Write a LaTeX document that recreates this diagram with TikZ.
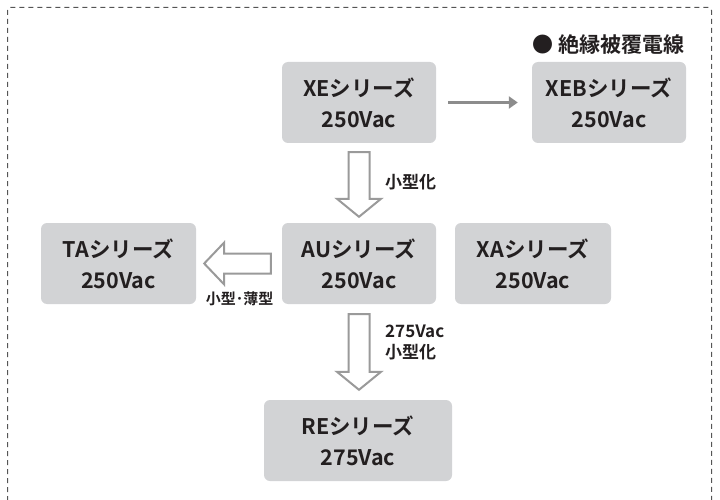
\documentclass[tikz,border=0pt]{standalone}
\usepackage{fontspec}
\setmainfont{Noto Sans CJK JP}[BoldFont={* Bold}]
\usetikzlibrary{calc,arrows.meta}
\definecolor{boxgray}{HTML}{D2D3D5}
\definecolor{txt}{HTML}{231F20}
\definecolor{arrgray}{HTML}{8C8C8C}
\definecolor{hollowgray}{HTML}{9A9A9A}
\definecolor{framegray}{HTML}{555555}
\newcommand{\hdown}[2]{\draw[hollow] let \p1=(#1), \p2=(#2) in
 (\x1-10.5pt,\y1) -- (\x1+10.5pt,\y1) -- (\x1+10.5pt,\y2+18pt) -- (\x1+22pt,\y2+18pt)
 -- (\x1,\y2) -- (\x1-22pt,\y2+18pt) -- (\x1-10.5pt,\y2+18pt) -- cycle;}
\newcommand{\hleft}[2]{\draw[hollow] let \p1=(#1), \p2=(#2) in
 (\x1,\y1-10pt) -- (\x1,\y1+10pt) -- (\x2+20pt,\y1+10pt) -- (\x2+20pt,\y1+21pt)
 -- (\x2,\y1) -- (\x2+20pt,\y1-21pt) -- (\x2+20pt,\y1-10pt) -- cycle;}
\begin{document}
\begin{tikzpicture}[x=1pt,y=-1pt,
  series/.style={fill=boxgray, rounded corners=6pt, text=txt,
    font=\fontsize{21.5}{31}\selectfont\bfseries, align=center, inner sep=0pt,
    minimum height=81pt},
  hollow/.style={draw=hollowgray, line width=2pt, fill=white, line join=miter},
  lbl/.style={text=txt, font=\fontsize{17}{21}\selectfont\bfseries, inner sep=0pt, align=left}]
\useasboundingbox (0,0) rectangle (720,500);
\begin{scope}
  \clip (0,0) rectangle (720,500);
  \draw[framegray, line width=1pt, dash pattern=on 5pt off 4pt, rounded corners=3pt]
    (7.5,510) |- (711.5,7.5) -- (711.5,510);
\end{scope}
\node[series, minimum width=154pt] (XE)  at (359,102.5) {XEシリーズ\\250Vac};
\node[series, minimum width=154pt] (XEB) at (609,102.5) {XEBシリーズ\\250Vac};
\node[series, minimum width=155pt] (TA)  at (118.5,263.5) {TAシリーズ\\250Vac};
\node[series, minimum width=154pt] (AU)  at (359,263.5) {AUシリーズ\\250Vac};
\node[series, minimum width=156pt] (XA)  at (533,263.5) {XAシリーズ\\250Vac};
\node[series, minimum width=188pt] (RE)  at (358,440.5) {REシリーズ\\275Vac};
\node[text=txt, font=\fontsize{21}{24}\selectfont\bfseries, inner sep=0pt] (ins) at (608.5,45) {● 絶縁被覆電線};
\draw[arrgray, line width=3.5pt, -{Triangle[length=9pt,width=12pt]}]
  ($(XE.east)+(12,0)$) -- ($(XEB.west)+(-14,0)$);
\coordinate (d1s) at ($(XE.south)+(0,9)$);
\coordinate (d1e) at ($(AU.north)+(0,-6)$);
\hdown{d1s}{d1e}
\coordinate (d2s) at ($(AU.south)+(0,10)$);
\coordinate (d2e) at ($(RE.north)+(0,-10)$);
\hdown{d2s}{d2e}
\coordinate (l1s) at ($(AU.west)+(-11,0)$);
\coordinate (l1e) at ($(TA.east)+(8,0)$);
\hleft{l1s}{l1e}
\node[lbl, anchor=west] (t1) at (385,182) {小型化};
\node[lbl, anchor=west] (t3) at (385,342.5) {275Vac\\小型化};
\node[text=txt, font=\fontsize{15}{18}\selectfont\bfseries, inner sep=0pt] (t2) at (239.5,299) {小型･薄型};
\end{tikzpicture}
\end{document}
